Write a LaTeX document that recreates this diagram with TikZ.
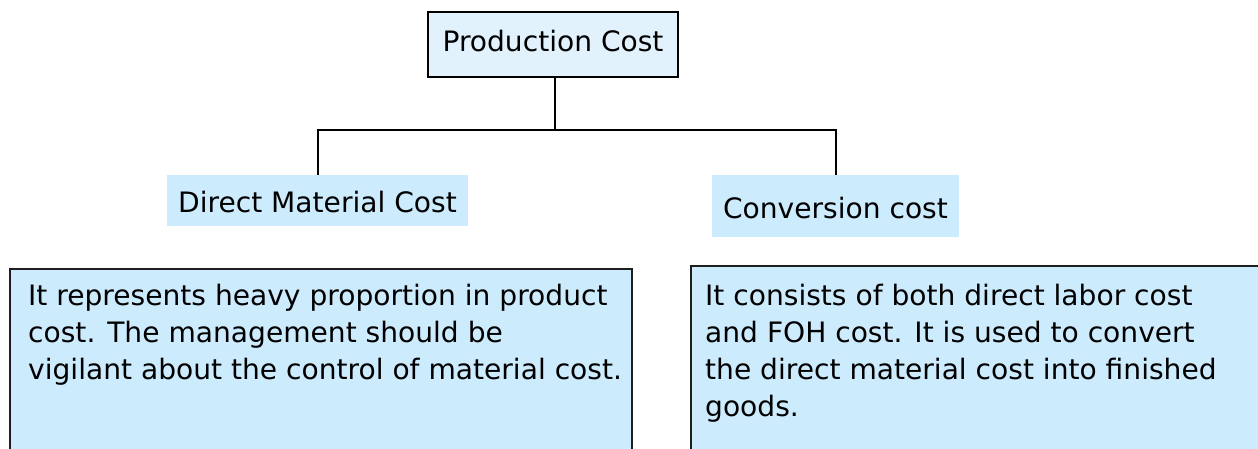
\documentclass[tikz,border=0pt]{standalone}
\usepackage{fontspec}
\setmainfont{DejaVu Sans}
\definecolor{topfill}{RGB}{225,242,253}
\definecolor{boxfill}{RGB}{204,235,253}
\definecolor{edge}{RGB}{30,30,30}
\begin{document}
\begin{tikzpicture}[x=1pt,y=-1pt,
  every node/.style={font=\fontsize{28.1}{37}\selectfont, inner sep=0pt, text=black},
  topbox/.style={draw=black, line width=2pt, fill=topfill, minimum width=250pt, minimum height=65pt, text height=21pt, text depth=6.6pt},
  midbox/.style={fill=boxfill, text height=27pt, text depth=2.6pt},
  descbox/.style={draw=edge, line width=2pt, fill=boxfill, anchor=north west},
  desctext/.style={anchor=north west, align=left},
  conn/.style={draw=black, line width=2pt}]
\path[use as bounding box] (0,0) rectangle (1258,449);
\clip (0,0) rectangle (1258,449);
\node[topbox] (pc) at (553,44.5) {Production Cost};
\node[midbox, minimum width=301pt, minimum height=51pt] (dmc) at (317.5,200.5) {Direct Material Cost};
\node[midbox, minimum width=247pt, minimum height=62pt] (cc) at (835.5,206) {Conversion cost};
\coordinate (j) at (555,130);
\draw[conn] (pc.south -| j) -- (j);
\draw[conn] (dmc.north) -- (dmc.north |- j) -- (cc.north |- j) -- (cc.north);
\node[descbox, minimum width=622pt, minimum height=240pt] (lb) at (9,268) {};
\node[descbox, minimum width=620pt, minimum height=240pt] (rb) at (690,265) {};
\node[desctext] (lt) at (28,283.5) {It represents heavy proportion in product\\cost. The management should be\\vigilant about the control of material cost.};
\node[desctext] (rt) at (705,283.5) {It consists of both direct labor cost\\and FOH cost. It is used to convert\\the direct material cost into finished\\goods.};
\end{tikzpicture}
\end{document}
